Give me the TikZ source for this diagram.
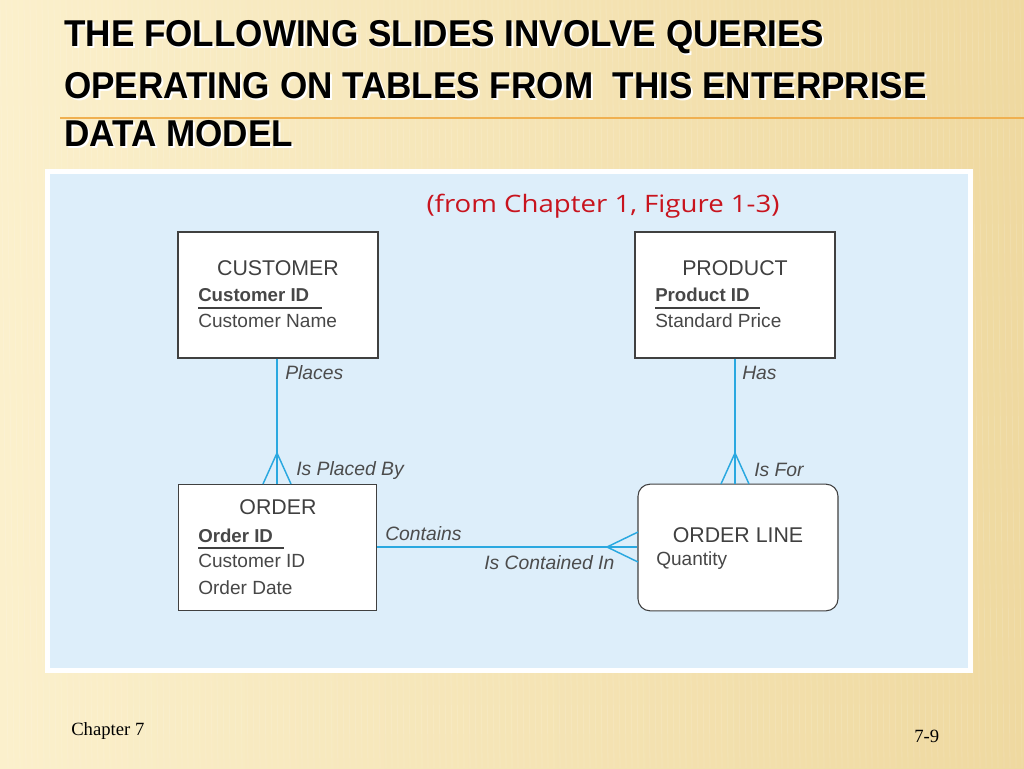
\documentclass[tikz,border=0pt]{standalone}
\usepackage{fontspec}
\setmainfont{Liberation Sans}
\newfontfamily\timesf{Liberation Serif}
\newfontfamily\srcf{Open Sans}
\begin{document}
\begin{tikzpicture}[x=0.75pt,y=-0.75pt,
  ent/.style={draw=black!75,line width=0.8pt,fill=white,inner sep=0},
  rel/.style={line width=1.1pt},
  lab/.style={font=\fontsize{14.5}{16}\selectfont\itshape,text=black!70,anchor=west,inner sep=0},
  ttl/.style={font=\fontsize{16}{18}\selectfont,text=black!75,anchor=center,inner sep=0},
  att/.style={font=\fontsize{14.3}{16}\selectfont,text=black!72,anchor=west,inner sep=0},
  head/.style={font=\bfseries\fontsize{28}{30}\selectfont,anchor=west,inner sep=0,xscale=0.94}]
\definecolor{bgA}{HTML}{FBF0CC}\definecolor{bgB}{HTML}{EFD9A0}
\definecolor{panel}{HTML}{DDEEFA}\definecolor{relc}{HTML}{2AA8E0}
\useasboundingbox (0,0) rectangle (1024,768);
\shade[left color=bgA,right color=bgB] (0,0) rectangle (1024,768);
\foreach \i in {0,6,...,1020} {\draw[white,opacity=0.12,line width=0.6pt] (\i,0) -- (\i+8,768);}
\draw[color={rgb,255:red,240;green,176;blue,80},line width=1pt] (60,118) -- (1024,118);
\foreach \t/\yy in {{THE FOLLOWING SLIDES INVOLVE QUERIES}/37,{OPERATING ON TABLES FROM\ \ THIS ENTERPRISE}/86,{DATA MODEL}/134}{
  \node[head,text=white] at (66,\yy+2) {\t};
  \node[head] at (64,\yy) {\t};}
\fill[white] (45,169) rectangle (973,673);
\fill[panel] (50,174) rectangle (968,668);
\node[font=\srcf\fontsize{18}{20}\selectfont,xscale=1.15,text={rgb,255:red,200;green,20;blue,30},inner sep=0] (src) at (603,206) {(from Chapter 1, Figure 1-3)};
% entities
\node[ent,minimum width=150pt,minimum height=94.5pt] (cust) at (278,295) {};
\node[ent,minimum width=150pt,minimum height=94.5pt] (prod) at (735,295) {};
\node[ent,minimum width=149pt,minimum height=95pt] (ord) at (277.5,547.5) {};
\node[ent,rounded corners=9pt,minimum width=150pt,minimum height=95pt] (ol) at (738,547.5) {};
\node[ttl] (custt) at (278,268) {CUSTOMER};
\node[att,font=\bfseries\fontsize{14}{16}\selectfont] (c1) at (198,295) {Customer ID};
\draw[black!75,line width=0.8pt] (198,308) -- (322,308);
\node[att] (c2) at (198,321) {Customer Name};
\node[ttl] (prodt) at (735,268) {PRODUCT};
\node[att,font=\bfseries\fontsize{14}{16}\selectfont] (p1) at (655,295) {Product ID};
\draw[black!75,line width=0.8pt] (655,308) -- (760,308);
\node[att] (p2) at (655,321) {Standard Price};
\node[ttl] (ordt) at (278,507) {ORDER};
\node[att,font=\bfseries\fontsize{14}{16}\selectfont] (o1) at (198,536) {Order ID};
\draw[black!75,line width=0.8pt] (198,548) -- (284,548);
\node[att] (o2) at (198,561) {Customer ID};
\node[att] (o3) at (198,588) {Order Date};
\node[ttl] (olt) at (738,535) {ORDER LINE};
\node[att] (ol1) at (656,561) {Quantity};
% relationships
\coordinate (f1) at (277,453);
\draw[rel,draw=relc] (cust.south -| f1) -- (ord.north -| f1);
\draw[rel,draw=relc] (263,484) -- (f1) -- (291,484);
\coordinate (f2) at (735,453);
\draw[rel,draw=relc] (prod.south -| f2) -- (ol.north -| f2);
\draw[rel,draw=relc] (721,484) -- (f2) -- (749,484);
\coordinate (f3) at (607,547);
\draw[rel,draw=relc] (ord.east |- f3) -- (ol.west |- f3);
\draw[rel,draw=relc] (638,532) -- (f3) -- (638,562);
\node[lab] (l1) at (285,373) {Places};
\node[lab] (l2) at (742,373) {Has};
\node[lab] (l3) at (296,470) {Is Placed By};
\node[lab] (l4) at (754,470) {Is For};
\node[lab] (l5) at (385,534) {Contains};
\node[lab] (l6) at (484,563) {Is Contained In};
\node[font=\timesf\fontsize{14}{16}\selectfont,anchor=west,inner sep=0] (ch) at (71,731) {Chapter 7};
\node[font=\timesf\fontsize{14}{16}\selectfont,anchor=west,inner sep=0] (pg) at (914,736) {7-9};
\end{tikzpicture}
\end{document}
